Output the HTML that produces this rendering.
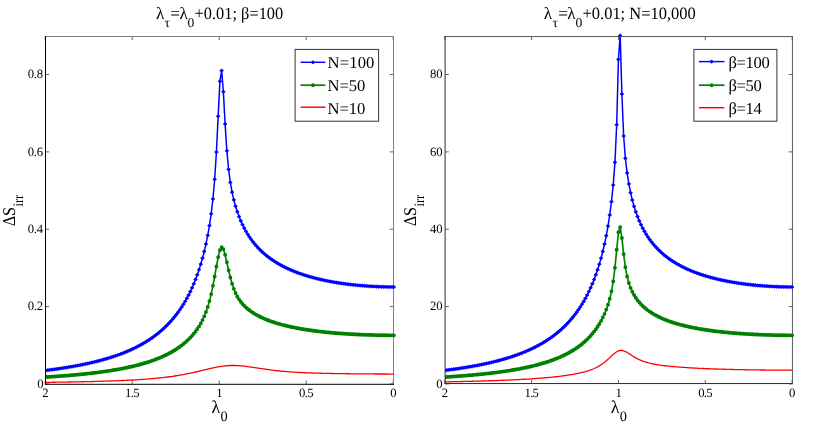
<!DOCTYPE html>
<html><head><meta charset="utf-8"><title>chart</title>
<style>
html,body{margin:0;padding:0;background:#fff;}
svg{display:block;will-change:transform;}
text{font-family:"Liberation Serif",serif;fill:#000;text-rendering:geometricPrecision;}
.t{font-size:12.7px;}
.l{font-size:16.6px;}
.ti{font-size:17.2px;}
.sub{font-size:13.6px;}
.lab{font-size:18px;}
.sub2{font-size:14.4px;}
</style></head><body>
<svg width="830" height="423" viewBox="0 0 830 423">
<rect width="830" height="423" fill="#fff"/>
<path d="M45.20,384.3v-3.6999999999999997M45.20,36.5v3.6999999999999997" stroke="#222" stroke-width="0.7"/>
<path d="M132.20,384.3v-3.6999999999999997M132.20,36.5v3.6999999999999997" stroke="#222" stroke-width="0.7"/>
<path d="M219.20,384.3v-3.6999999999999997M219.20,36.5v3.6999999999999997" stroke="#222" stroke-width="0.7"/>
<path d="M306.20,384.3v-3.6999999999999997M306.20,36.5v3.6999999999999997" stroke="#222" stroke-width="0.7"/>
<path d="M393.20,384.3v-3.6999999999999997M393.20,36.5v3.6999999999999997" stroke="#222" stroke-width="0.7"/>
<path d="M45.5,383.95h3.6999999999999997M393.5,383.95h-3.6999999999999997" stroke="#222" stroke-width="0.7"/>
<path d="M45.5,306.59h3.6999999999999997M393.5,306.59h-3.6999999999999997" stroke="#222" stroke-width="0.7"/>
<path d="M45.5,229.24h3.6999999999999997M393.5,229.24h-3.6999999999999997" stroke="#222" stroke-width="0.7"/>
<path d="M45.5,151.88h3.6999999999999997M393.5,151.88h-3.6999999999999997" stroke="#222" stroke-width="0.7"/>
<path d="M45.5,74.53h3.6999999999999997M393.5,74.53h-3.6999999999999997" stroke="#222" stroke-width="0.7"/>
<path d="M45.0,36.5H394.0M393.5,36.5V384.3" stroke="#808080" stroke-width="1" fill="none"/>
<text x="45.30" y="397.1" text-anchor="middle" class="t">2</text>
<text x="132.30" y="397.1" text-anchor="middle" class="t" textLength="14.4" lengthAdjust="spacing">1.5</text>
<text x="219.30" y="397.1" text-anchor="middle" class="t">1</text>
<text x="306.30" y="397.1" text-anchor="middle" class="t" textLength="14.4" lengthAdjust="spacing">0.5</text>
<text x="393.30" y="397.1" text-anchor="middle" class="t">0</text>
<text x="43.60" y="388.00" text-anchor="end" class="t">0</text>
<text x="43.10" y="310.34" text-anchor="end" class="t" textLength="15.3" lengthAdjust="spacing">0.2</text>
<text x="43.10" y="232.99" text-anchor="end" class="t" textLength="15.3" lengthAdjust="spacing">0.4</text>
<text x="43.10" y="155.63" text-anchor="end" class="t" textLength="15.3" lengthAdjust="spacing">0.6</text>
<text x="43.10" y="78.28" text-anchor="end" class="t" textLength="15.3" lengthAdjust="spacing">0.8</text>
<path d="M444.80,383.55v-3.6999999999999997M444.80,36.55v3.6999999999999997" stroke="#222" stroke-width="0.7"/>
<path d="M531.64,383.55v-3.6999999999999997M531.64,36.55v3.6999999999999997" stroke="#222" stroke-width="0.7"/>
<path d="M618.48,383.55v-3.6999999999999997M618.48,36.55v3.6999999999999997" stroke="#222" stroke-width="0.7"/>
<path d="M705.31,383.55v-3.6999999999999997M705.31,36.55v3.6999999999999997" stroke="#222" stroke-width="0.7"/>
<path d="M792.15,383.55v-3.6999999999999997M792.15,36.55v3.6999999999999997" stroke="#222" stroke-width="0.7"/>
<path d="M445.1,383.95h3.6999999999999997M792.45,383.95h-3.6999999999999997" stroke="#222" stroke-width="0.7"/>
<path d="M445.1,306.59h3.6999999999999997M792.45,306.59h-3.6999999999999997" stroke="#222" stroke-width="0.7"/>
<path d="M445.1,229.24h3.6999999999999997M792.45,229.24h-3.6999999999999997" stroke="#222" stroke-width="0.7"/>
<path d="M445.1,151.88h3.6999999999999997M792.45,151.88h-3.6999999999999997" stroke="#222" stroke-width="0.7"/>
<path d="M445.1,74.53h3.6999999999999997M792.45,74.53h-3.6999999999999997" stroke="#222" stroke-width="0.7"/>
<path d="M444.6,36.55H792.95M792.45,36.55V383.55" stroke="#5a5a5a" stroke-width="1" fill="none"/>
<text x="444.90" y="397.1" text-anchor="middle" class="t">2</text>
<text x="531.74" y="397.1" text-anchor="middle" class="t" textLength="14.4" lengthAdjust="spacing">1.5</text>
<text x="618.58" y="397.1" text-anchor="middle" class="t">1</text>
<text x="705.41" y="397.1" text-anchor="middle" class="t" textLength="14.4" lengthAdjust="spacing">0.5</text>
<text x="792.25" y="397.1" text-anchor="middle" class="t">0</text>
<text x="442.70" y="387.60" text-anchor="end" class="t">0</text>
<text x="442.70" y="310.34" text-anchor="end" class="t">20</text>
<text x="442.70" y="232.99" text-anchor="end" class="t">40</text>
<text x="442.70" y="155.63" text-anchor="end" class="t">60</text>
<text x="442.70" y="78.28" text-anchor="end" class="t">80</text>
<clipPath id="c45"><rect x="45.5" y="32.5" width="352.0" height="351.8"/></clipPath><g clip-path="url(#c45)"><path d="M393.90,374.03 L392.16,374.03 L390.42,374.03 L388.68,374.03 L386.94,374.02 L385.20,374.02 L383.46,374.01 L381.72,374.01 L379.98,374.00 L378.24,374.00 L376.50,373.99 L374.76,373.98 L373.02,373.97 L371.28,373.96 L369.54,373.95 L367.80,373.94 L366.06,373.93 L364.32,373.91 L362.58,373.90 L360.84,373.89 L359.10,373.87 L357.36,373.85 L355.62,373.84 L353.88,373.82 L352.14,373.80 L350.40,373.78 L348.66,373.76 L346.92,373.74 L345.18,373.71 L343.44,373.69 L341.70,373.67 L339.96,373.64 L338.22,373.61 L336.48,373.58 L334.74,373.55 L333.00,373.52 L331.26,373.49 L329.52,373.45 L327.78,373.42 L326.04,373.38 L324.30,373.34 L322.56,373.30 L320.82,373.25 L319.08,373.21 L317.34,373.16 L315.60,373.10 L313.86,373.05 L312.12,372.99 L310.38,372.93 L308.64,372.87 L306.90,372.80 L305.16,372.73 L303.42,372.65 L301.68,372.57 L299.94,372.48 L298.20,372.39 L296.46,372.29 L294.72,372.19 L292.98,372.08 L291.24,371.96 L289.50,371.84 L287.76,371.71 L286.02,371.57 L284.28,371.42 L282.54,371.27 L280.80,371.10 L279.06,370.93 L277.32,370.74 L275.58,370.55 L273.84,370.34 L272.10,370.13 L270.36,369.91 L268.62,369.68 L266.88,369.44 L265.14,369.19 L263.40,368.93 L261.66,368.67 L259.92,368.41 L258.18,368.14 L256.44,367.86 L254.70,367.60 L252.96,367.33 L251.22,367.07 L249.48,366.82 L247.74,366.58 L246.00,366.35 L244.26,366.14 L242.52,365.96 L240.78,365.80 L239.04,365.67 L237.30,365.57 L235.56,365.50 L233.82,365.47 L232.08,365.48 L230.34,365.52 L228.60,365.60 L226.86,365.73 L225.12,365.89 L223.38,366.08 L221.64,366.32 L219.90,366.58 L218.16,366.88 L216.42,367.20 L214.68,367.54 L212.94,367.91 L211.20,368.29 L209.46,368.69 L207.72,369.10 L205.98,369.51 L204.24,369.93 L202.50,370.35 L200.76,370.77 L199.02,371.18 L197.28,371.59 L195.54,372.00 L193.80,372.39 L192.06,372.78 L190.32,373.15 L188.58,373.52 L186.84,373.87 L185.10,374.21 L183.36,374.54 L181.62,374.86 L179.88,375.16 L178.14,375.46 L176.40,375.74 L174.66,376.01 L172.92,376.27 L171.18,376.52 L169.44,376.76 L167.70,376.99 L165.96,377.20 L164.22,377.41 L162.48,377.61 L160.74,377.80 L159.00,377.99 L157.26,378.16 L155.52,378.33 L153.78,378.49 L152.04,378.65 L150.30,378.80 L148.56,378.94 L146.82,379.07 L145.08,379.20 L143.34,379.33 L141.60,379.45 L139.86,379.56 L138.12,379.67 L136.38,379.78 L134.64,379.88 L132.90,379.98 L131.16,380.08 L129.42,380.17 L127.68,380.26 L125.94,380.34 L124.20,380.42 L122.46,380.50 L120.72,380.58 L118.98,380.65 L117.24,380.72 L115.50,380.79 L113.76,380.86 L112.02,380.92 L110.28,380.98 L108.54,381.04 L106.80,381.10 L105.06,381.16 L103.32,381.21 L101.58,381.26 L99.84,381.32 L98.10,381.37 L96.36,381.41 L94.62,381.46 L92.88,381.51 L91.14,381.55 L89.40,381.59 L87.66,381.63 L85.92,381.67 L84.18,381.71 L82.44,381.75 L80.70,381.79 L78.96,381.82 L77.22,381.86 L75.48,381.89 L73.74,381.93 L72.00,381.96 L70.26,381.99 L68.52,382.02 L66.78,382.05 L65.04,382.08 L63.30,382.11 L61.56,382.14 L59.82,382.16 L58.08,382.19 L56.34,382.22 L54.60,382.24 L52.86,382.27 L51.12,382.29 L49.38,382.31 L47.64,382.34 L45.90,382.36" fill="none" stroke="#ff0000" stroke-width="1.3" stroke-linejoin="round"/>
<path d="M393.90,335.35 L392.16,335.35 L390.42,335.34 L388.68,335.33 L386.94,335.31 L385.20,335.29 L383.46,335.27 L381.72,335.25 L379.98,335.22 L378.24,335.18 L376.50,335.14 L374.76,335.10 L373.02,335.06 L371.28,335.01 L369.54,334.96 L367.80,334.90 L366.06,334.84 L364.32,334.77 L362.58,334.71 L360.84,334.63 L359.10,334.56 L357.36,334.47 L355.62,334.39 L353.88,334.30 L352.14,334.20 L350.40,334.10 L348.66,334.00 L346.92,333.89 L345.18,333.78 L343.44,333.66 L341.70,333.54 L339.96,333.41 L338.22,333.28 L336.48,333.14 L334.74,332.99 L333.00,332.84 L331.26,332.69 L329.52,332.52 L327.78,332.35 L326.04,332.18 L324.30,332.00 L322.56,331.81 L320.82,331.61 L319.08,331.41 L317.34,331.20 L315.60,330.99 L313.86,330.76 L312.12,330.53 L310.38,330.28 L308.64,330.03 L306.90,329.77 L305.16,329.50 L303.42,329.22 L301.68,328.93 L299.94,328.63 L298.20,328.31 L296.46,327.99 L294.72,327.65 L292.98,327.30 L291.24,326.93 L289.50,326.55 L287.76,326.16 L286.02,325.75 L284.28,325.32 L282.54,324.87 L280.80,324.40 L279.06,323.92 L277.32,323.41 L275.58,322.88 L273.84,322.32 L272.10,321.74 L270.36,321.12 L268.62,320.48 L266.88,319.80 L265.14,319.09 L263.40,318.34 L261.66,317.54 L259.92,316.70 L258.18,315.81 L256.44,314.86 L254.70,313.84 L252.96,312.75 L251.22,311.59 L249.48,310.32 L247.74,308.95 L246.00,307.44 L244.26,305.78 L242.52,303.91 L240.78,301.79 L239.04,299.34 L237.30,296.46 L235.56,293.01 L233.82,288.83 L232.08,283.72 L230.34,277.53 L228.60,270.26 L226.86,262.32 L225.12,254.71 L223.38,249.10 L221.64,247.27 L219.90,250.15 L218.16,257.13 L216.42,266.50 L214.68,276.48 L212.94,285.85 L211.20,294.09 L209.46,301.11 L207.72,307.04 L205.98,312.06 L204.24,316.37 L202.50,320.12 L200.76,323.41 L199.02,326.35 L197.28,329.01 L195.54,331.42 L193.80,333.63 L192.06,335.68 L190.32,337.58 L188.58,339.34 L186.84,341.00 L185.10,342.55 L183.36,344.01 L181.62,345.38 L179.88,346.68 L178.14,347.91 L176.40,349.08 L174.66,350.19 L172.92,351.24 L171.18,352.25 L169.44,353.20 L167.70,354.12 L165.96,354.99 L164.22,355.82 L162.48,356.62 L160.74,357.38 L159.00,358.11 L157.26,358.82 L155.52,359.49 L153.78,360.14 L152.04,360.76 L150.30,361.36 L148.56,361.93 L146.82,362.49 L145.08,363.02 L143.34,363.54 L141.60,364.04 L139.86,364.51 L138.12,364.98 L136.38,365.42 L134.64,365.86 L132.90,366.27 L131.16,366.68 L129.42,367.07 L127.68,367.44 L125.94,367.81 L124.20,368.16 L122.46,368.51 L120.72,368.84 L118.98,369.16 L117.24,369.47 L115.50,369.78 L113.76,370.07 L112.02,370.36 L110.28,370.63 L108.54,370.90 L106.80,371.16 L105.06,371.42 L103.32,371.66 L101.58,371.90 L99.84,372.14 L98.10,372.36 L96.36,372.59 L94.62,372.80 L92.88,373.01 L91.14,373.21 L89.40,373.41 L87.66,373.60 L85.92,373.79 L84.18,373.98 L82.44,374.15 L80.70,374.33 L78.96,374.50 L77.22,374.66 L75.48,374.83 L73.74,374.98 L72.00,375.14 L70.26,375.29 L68.52,375.43 L66.78,375.58 L65.04,375.72 L63.30,375.85 L61.56,375.99 L59.82,376.12 L58.08,376.24 L56.34,376.37 L54.60,376.49 L52.86,376.61 L51.12,376.72 L49.38,376.84 L47.64,376.95 L45.90,377.06" fill="none" stroke="#008000" stroke-width="1.65" stroke-linejoin="round"/>
<path d="M393.90,335.35h0M392.16,335.35h0M390.42,335.34h0M388.68,335.33h0M386.94,335.31h0M385.20,335.29h0M383.46,335.27h0M381.72,335.25h0M379.98,335.22h0M378.24,335.18h0M376.50,335.14h0M374.76,335.10h0M373.02,335.06h0M371.28,335.01h0M369.54,334.96h0M367.80,334.90h0M366.06,334.84h0M364.32,334.77h0M362.58,334.71h0M360.84,334.63h0M359.10,334.56h0M357.36,334.47h0M355.62,334.39h0M353.88,334.30h0M352.14,334.20h0M350.40,334.10h0M348.66,334.00h0M346.92,333.89h0M345.18,333.78h0M343.44,333.66h0M341.70,333.54h0M339.96,333.41h0M338.22,333.28h0M336.48,333.14h0M334.74,332.99h0M333.00,332.84h0M331.26,332.69h0M329.52,332.52h0M327.78,332.35h0M326.04,332.18h0M324.30,332.00h0M322.56,331.81h0M320.82,331.61h0M319.08,331.41h0M317.34,331.20h0M315.60,330.99h0M313.86,330.76h0M312.12,330.53h0M310.38,330.28h0M308.64,330.03h0M306.90,329.77h0M305.16,329.50h0M303.42,329.22h0M301.68,328.93h0M299.94,328.63h0M298.20,328.31h0M296.46,327.99h0M294.72,327.65h0M292.98,327.30h0M291.24,326.93h0M289.50,326.55h0M287.76,326.16h0M286.02,325.75h0M284.28,325.32h0M282.54,324.87h0M280.80,324.40h0M279.06,323.92h0M277.32,323.41h0M275.58,322.88h0M273.84,322.32h0M272.10,321.74h0M270.36,321.12h0M268.62,320.48h0M266.88,319.80h0M265.14,319.09h0M263.40,318.34h0M261.66,317.54h0M259.92,316.70h0M258.18,315.81h0M256.44,314.86h0M254.70,313.84h0M252.96,312.75h0M251.22,311.59h0M249.48,310.32h0M247.74,308.95h0M246.00,307.44h0M244.26,305.78h0M242.52,303.91h0M240.78,301.79h0M239.04,299.34h0M237.30,296.46h0M235.56,293.01h0M233.82,288.83h0M232.08,283.72h0M230.34,277.53h0M228.60,270.26h0M226.86,262.32h0M225.12,254.71h0M223.38,249.10h0M221.64,247.27h0M219.90,250.15h0M218.16,257.13h0M216.42,266.50h0M214.68,276.48h0M212.94,285.85h0M211.20,294.09h0M209.46,301.11h0M207.72,307.04h0M205.98,312.06h0M204.24,316.37h0M202.50,320.12h0M200.76,323.41h0M199.02,326.35h0M197.28,329.01h0M195.54,331.42h0M193.80,333.63h0M192.06,335.68h0M190.32,337.58h0M188.58,339.34h0M186.84,341.00h0M185.10,342.55h0M183.36,344.01h0M181.62,345.38h0M179.88,346.68h0M178.14,347.91h0M176.40,349.08h0M174.66,350.19h0M172.92,351.24h0M171.18,352.25h0M169.44,353.20h0M167.70,354.12h0M165.96,354.99h0M164.22,355.82h0M162.48,356.62h0M160.74,357.38h0M159.00,358.11h0M157.26,358.82h0M155.52,359.49h0M153.78,360.14h0M152.04,360.76h0M150.30,361.36h0M148.56,361.93h0M146.82,362.49h0M145.08,363.02h0M143.34,363.54h0M141.60,364.04h0M139.86,364.51h0M138.12,364.98h0M136.38,365.42h0M134.64,365.86h0M132.90,366.27h0M131.16,366.68h0M129.42,367.07h0M127.68,367.44h0M125.94,367.81h0M124.20,368.16h0M122.46,368.51h0M120.72,368.84h0M118.98,369.16h0M117.24,369.47h0M115.50,369.78h0M113.76,370.07h0M112.02,370.36h0M110.28,370.63h0M108.54,370.90h0M106.80,371.16h0M105.06,371.42h0M103.32,371.66h0M101.58,371.90h0M99.84,372.14h0M98.10,372.36h0M96.36,372.59h0M94.62,372.80h0M92.88,373.01h0M91.14,373.21h0M89.40,373.41h0M87.66,373.60h0M85.92,373.79h0M84.18,373.98h0M82.44,374.15h0M80.70,374.33h0M78.96,374.50h0M77.22,374.66h0M75.48,374.83h0M73.74,374.98h0M72.00,375.14h0M70.26,375.29h0M68.52,375.43h0M66.78,375.58h0M65.04,375.72h0M63.30,375.85h0M61.56,375.99h0M59.82,376.12h0M58.08,376.24h0M56.34,376.37h0M54.60,376.49h0M52.86,376.61h0M51.12,376.72h0M49.38,376.84h0M47.64,376.95h0M45.90,377.06h0" fill="none" stroke="#008000" stroke-width="3.9" stroke-linecap="round"/>
<path d="M393.90,287.00 L392.16,287.00 L390.42,286.98 L388.68,286.96 L386.94,286.93 L385.20,286.89 L383.46,286.84 L381.72,286.79 L379.98,286.73 L378.24,286.66 L376.50,286.59 L374.76,286.51 L373.02,286.42 L371.28,286.32 L369.54,286.21 L367.80,286.10 L366.06,285.98 L364.32,285.85 L362.58,285.71 L360.84,285.57 L359.10,285.41 L357.36,285.25 L355.62,285.08 L353.88,284.90 L352.14,284.71 L350.40,284.51 L348.66,284.30 L346.92,284.09 L345.18,283.86 L343.44,283.62 L341.70,283.38 L339.96,283.12 L338.22,282.85 L336.48,282.57 L334.74,282.28 L333.00,281.98 L331.26,281.67 L329.52,281.35 L327.78,281.01 L326.04,280.66 L324.30,280.30 L322.56,279.92 L320.82,279.53 L319.08,279.13 L317.34,278.71 L315.60,278.27 L313.86,277.82 L312.12,277.35 L310.38,276.87 L308.64,276.36 L306.90,275.84 L305.16,275.30 L303.42,274.74 L301.68,274.16 L299.94,273.56 L298.20,272.93 L296.46,272.28 L294.72,271.60 L292.98,270.90 L291.24,270.17 L289.50,269.41 L287.76,268.62 L286.02,267.79 L284.28,266.94 L282.54,266.04 L280.80,265.11 L279.06,264.14 L277.32,263.12 L275.58,262.05 L273.84,260.94 L272.10,259.77 L270.36,258.55 L268.62,257.26 L266.88,255.91 L265.14,254.48 L263.40,252.98 L261.66,251.39 L259.92,249.70 L258.18,247.92 L256.44,246.02 L254.70,244.00 L252.96,241.83 L251.22,239.51 L249.48,237.02 L247.74,234.33 L246.00,231.41 L244.26,228.22 L242.52,224.73 L240.78,220.88 L239.04,216.59 L237.30,211.77 L235.56,206.27 L233.82,199.86 L232.08,192.14 L230.34,182.43 L228.60,169.39 L226.86,150.79 L225.12,124.09 L223.38,91.73 L221.64,70.61 L219.90,81.37 L218.16,116.21 L216.42,152.02 L214.68,179.26 L212.94,198.94 L211.20,213.75 L209.46,225.56 L207.72,235.43 L205.98,243.94 L204.24,251.44 L202.50,258.14 L200.76,264.20 L199.02,269.73 L197.28,274.79 L195.54,279.46 L193.80,283.78 L192.06,287.80 L190.32,291.54 L188.58,295.05 L186.84,298.33 L185.10,301.42 L183.36,304.33 L181.62,307.08 L179.88,309.67 L178.14,312.13 L176.40,314.47 L174.66,316.68 L172.92,318.79 L171.18,320.79 L169.44,322.71 L167.70,324.53 L165.96,326.28 L164.22,327.94 L162.48,329.54 L160.74,331.07 L159.00,332.53 L157.26,333.93 L155.52,335.28 L153.78,336.58 L152.04,337.82 L150.30,339.02 L148.56,340.17 L146.82,341.28 L145.08,342.35 L143.34,343.38 L141.60,344.37 L139.86,345.33 L138.12,346.25 L136.38,347.15 L134.64,348.01 L132.90,348.84 L131.16,349.65 L129.42,350.43 L127.68,351.19 L125.94,351.92 L124.20,352.63 L122.46,353.31 L120.72,353.98 L118.98,354.62 L117.24,355.25 L115.50,355.85 L113.76,356.44 L112.02,357.01 L110.28,357.56 L108.54,358.10 L106.80,358.63 L105.06,359.13 L103.32,359.63 L101.58,360.11 L99.84,360.57 L98.10,361.03 L96.36,361.47 L94.62,361.90 L92.88,362.32 L91.14,362.73 L89.40,363.12 L87.66,363.51 L85.92,363.88 L84.18,364.25 L82.44,364.61 L80.70,364.96 L78.96,365.30 L77.22,365.63 L75.48,365.95 L73.74,366.27 L72.00,366.57 L70.26,366.87 L68.52,367.17 L66.78,367.45 L65.04,367.73 L63.30,368.00 L61.56,368.27 L59.82,368.53 L58.08,368.78 L56.34,369.03 L54.60,369.28 L52.86,369.51 L51.12,369.74 L49.38,369.97 L47.64,370.19 L45.90,370.41" fill="none" stroke="#0000ff" stroke-width="1.5" stroke-linejoin="round"/>
<path d="M392.00,287.00l1.9,-1.6l1.9,1.6l-1.9,1.6zM390.26,287.00l1.9,-1.6l1.9,1.6l-1.9,1.6zM388.52,286.98l1.9,-1.6l1.9,1.6l-1.9,1.6zM386.78,286.96l1.9,-1.6l1.9,1.6l-1.9,1.6zM385.04,286.93l1.9,-1.6l1.9,1.6l-1.9,1.6zM383.30,286.89l1.9,-1.6l1.9,1.6l-1.9,1.6zM381.56,286.84l1.9,-1.6l1.9,1.6l-1.9,1.6zM379.82,286.79l1.9,-1.6l1.9,1.6l-1.9,1.6zM378.08,286.73l1.9,-1.6l1.9,1.6l-1.9,1.6zM376.34,286.66l1.9,-1.6l1.9,1.6l-1.9,1.6zM374.60,286.59l1.9,-1.6l1.9,1.6l-1.9,1.6zM372.86,286.51l1.9,-1.6l1.9,1.6l-1.9,1.6zM371.12,286.42l1.9,-1.6l1.9,1.6l-1.9,1.6zM369.38,286.32l1.9,-1.6l1.9,1.6l-1.9,1.6zM367.64,286.21l1.9,-1.6l1.9,1.6l-1.9,1.6zM365.90,286.10l1.9,-1.6l1.9,1.6l-1.9,1.6zM364.16,285.98l1.9,-1.6l1.9,1.6l-1.9,1.6zM362.42,285.85l1.9,-1.6l1.9,1.6l-1.9,1.6zM360.68,285.71l1.9,-1.6l1.9,1.6l-1.9,1.6zM358.94,285.57l1.9,-1.6l1.9,1.6l-1.9,1.6zM357.20,285.41l1.9,-1.6l1.9,1.6l-1.9,1.6zM355.46,285.25l1.9,-1.6l1.9,1.6l-1.9,1.6zM353.72,285.08l1.9,-1.6l1.9,1.6l-1.9,1.6zM351.98,284.90l1.9,-1.6l1.9,1.6l-1.9,1.6zM350.24,284.71l1.9,-1.6l1.9,1.6l-1.9,1.6zM348.50,284.51l1.9,-1.6l1.9,1.6l-1.9,1.6zM346.76,284.30l1.9,-1.6l1.9,1.6l-1.9,1.6zM345.02,284.09l1.9,-1.6l1.9,1.6l-1.9,1.6zM343.28,283.86l1.9,-1.6l1.9,1.6l-1.9,1.6zM341.54,283.62l1.9,-1.6l1.9,1.6l-1.9,1.6zM339.80,283.38l1.9,-1.6l1.9,1.6l-1.9,1.6zM338.06,283.12l1.9,-1.6l1.9,1.6l-1.9,1.6zM336.32,282.85l1.9,-1.6l1.9,1.6l-1.9,1.6zM334.58,282.57l1.9,-1.6l1.9,1.6l-1.9,1.6zM332.84,282.28l1.9,-1.6l1.9,1.6l-1.9,1.6zM331.10,281.98l1.9,-1.6l1.9,1.6l-1.9,1.6zM329.36,281.67l1.9,-1.6l1.9,1.6l-1.9,1.6zM327.62,281.35l1.9,-1.6l1.9,1.6l-1.9,1.6zM325.88,281.01l1.9,-1.6l1.9,1.6l-1.9,1.6zM324.14,280.66l1.9,-1.6l1.9,1.6l-1.9,1.6zM322.40,280.30l1.9,-1.6l1.9,1.6l-1.9,1.6zM320.66,279.92l1.9,-1.6l1.9,1.6l-1.9,1.6zM318.92,279.53l1.9,-1.6l1.9,1.6l-1.9,1.6zM317.18,279.13l1.9,-1.6l1.9,1.6l-1.9,1.6zM315.44,278.71l1.9,-1.6l1.9,1.6l-1.9,1.6zM313.70,278.27l1.9,-1.6l1.9,1.6l-1.9,1.6zM311.96,277.82l1.9,-1.6l1.9,1.6l-1.9,1.6zM310.22,277.35l1.9,-1.6l1.9,1.6l-1.9,1.6zM308.48,276.87l1.9,-1.6l1.9,1.6l-1.9,1.6zM306.74,276.36l1.9,-1.6l1.9,1.6l-1.9,1.6zM305.00,275.84l1.9,-1.6l1.9,1.6l-1.9,1.6zM303.26,275.30l1.9,-1.6l1.9,1.6l-1.9,1.6zM301.52,274.74l1.9,-1.6l1.9,1.6l-1.9,1.6zM299.78,274.16l1.9,-1.6l1.9,1.6l-1.9,1.6zM298.04,273.56l1.9,-1.6l1.9,1.6l-1.9,1.6zM296.30,272.93l1.9,-1.6l1.9,1.6l-1.9,1.6zM294.56,272.28l1.9,-1.6l1.9,1.6l-1.9,1.6zM292.82,271.60l1.9,-1.6l1.9,1.6l-1.9,1.6zM291.08,270.90l1.9,-1.6l1.9,1.6l-1.9,1.6zM289.34,270.17l1.9,-1.6l1.9,1.6l-1.9,1.6zM287.60,269.41l1.9,-1.6l1.9,1.6l-1.9,1.6zM285.86,268.62l1.9,-1.6l1.9,1.6l-1.9,1.6zM284.12,267.79l1.9,-1.6l1.9,1.6l-1.9,1.6zM282.38,266.94l1.9,-1.6l1.9,1.6l-1.9,1.6zM280.64,266.04l1.9,-1.6l1.9,1.6l-1.9,1.6zM278.90,265.11l1.9,-1.6l1.9,1.6l-1.9,1.6zM277.16,264.14l1.9,-1.6l1.9,1.6l-1.9,1.6zM275.42,263.12l1.9,-1.6l1.9,1.6l-1.9,1.6zM273.68,262.05l1.9,-1.6l1.9,1.6l-1.9,1.6zM271.94,260.94l1.9,-1.6l1.9,1.6l-1.9,1.6zM270.20,259.77l1.9,-1.6l1.9,1.6l-1.9,1.6zM268.46,258.55l1.9,-1.6l1.9,1.6l-1.9,1.6zM266.72,257.26l1.9,-1.6l1.9,1.6l-1.9,1.6zM264.98,255.91l1.9,-1.6l1.9,1.6l-1.9,1.6zM263.24,254.48l1.9,-1.6l1.9,1.6l-1.9,1.6zM261.50,252.98l1.9,-1.6l1.9,1.6l-1.9,1.6zM259.76,251.39l1.9,-1.6l1.9,1.6l-1.9,1.6zM258.02,249.70l1.9,-1.6l1.9,1.6l-1.9,1.6zM256.28,247.92l1.9,-1.6l1.9,1.6l-1.9,1.6zM254.54,246.02l1.9,-1.6l1.9,1.6l-1.9,1.6zM252.80,244.00l1.9,-1.6l1.9,1.6l-1.9,1.6zM251.06,241.83l1.9,-1.6l1.9,1.6l-1.9,1.6zM249.32,239.51l1.9,-1.6l1.9,1.6l-1.9,1.6zM247.58,237.02l1.9,-1.6l1.9,1.6l-1.9,1.6zM245.84,234.33l1.9,-1.6l1.9,1.6l-1.9,1.6zM244.10,231.41l1.9,-1.6l1.9,1.6l-1.9,1.6zM242.36,228.22l1.9,-1.6l1.9,1.6l-1.9,1.6zM240.62,224.73l1.9,-1.6l1.9,1.6l-1.9,1.6zM238.88,220.88l1.9,-1.6l1.9,1.6l-1.9,1.6zM237.14,216.59l1.9,-1.6l1.9,1.6l-1.9,1.6zM235.40,211.77l1.9,-1.6l1.9,1.6l-1.9,1.6zM233.66,206.27l1.9,-1.6l1.9,1.6l-1.9,1.6zM231.92,199.86l1.9,-1.6l1.9,1.6l-1.9,1.6zM230.18,192.14l1.9,-1.6l1.9,1.6l-1.9,1.6zM228.44,182.43l1.9,-1.6l1.9,1.6l-1.9,1.6zM226.70,169.39l1.9,-1.6l1.9,1.6l-1.9,1.6zM224.96,150.79l1.9,-1.6l1.9,1.6l-1.9,1.6zM223.22,124.09l1.9,-1.6l1.9,1.6l-1.9,1.6zM221.48,91.73l1.9,-1.6l1.9,1.6l-1.9,1.6zM219.74,70.61l1.9,-1.6l1.9,1.6l-1.9,1.6zM218.00,81.37l1.9,-1.6l1.9,1.6l-1.9,1.6zM216.26,116.21l1.9,-1.6l1.9,1.6l-1.9,1.6zM214.52,152.02l1.9,-1.6l1.9,1.6l-1.9,1.6zM212.78,179.26l1.9,-1.6l1.9,1.6l-1.9,1.6zM211.04,198.94l1.9,-1.6l1.9,1.6l-1.9,1.6zM209.30,213.75l1.9,-1.6l1.9,1.6l-1.9,1.6zM207.56,225.56l1.9,-1.6l1.9,1.6l-1.9,1.6zM205.82,235.43l1.9,-1.6l1.9,1.6l-1.9,1.6zM204.08,243.94l1.9,-1.6l1.9,1.6l-1.9,1.6zM202.34,251.44l1.9,-1.6l1.9,1.6l-1.9,1.6zM200.60,258.14l1.9,-1.6l1.9,1.6l-1.9,1.6zM198.86,264.20l1.9,-1.6l1.9,1.6l-1.9,1.6zM197.12,269.73l1.9,-1.6l1.9,1.6l-1.9,1.6zM195.38,274.79l1.9,-1.6l1.9,1.6l-1.9,1.6zM193.64,279.46l1.9,-1.6l1.9,1.6l-1.9,1.6zM191.90,283.78l1.9,-1.6l1.9,1.6l-1.9,1.6zM190.16,287.80l1.9,-1.6l1.9,1.6l-1.9,1.6zM188.42,291.54l1.9,-1.6l1.9,1.6l-1.9,1.6zM186.68,295.05l1.9,-1.6l1.9,1.6l-1.9,1.6zM184.94,298.33l1.9,-1.6l1.9,1.6l-1.9,1.6zM183.20,301.42l1.9,-1.6l1.9,1.6l-1.9,1.6zM181.46,304.33l1.9,-1.6l1.9,1.6l-1.9,1.6zM179.72,307.08l1.9,-1.6l1.9,1.6l-1.9,1.6zM177.98,309.67l1.9,-1.6l1.9,1.6l-1.9,1.6zM176.24,312.13l1.9,-1.6l1.9,1.6l-1.9,1.6zM174.50,314.47l1.9,-1.6l1.9,1.6l-1.9,1.6zM172.76,316.68l1.9,-1.6l1.9,1.6l-1.9,1.6zM171.02,318.79l1.9,-1.6l1.9,1.6l-1.9,1.6zM169.28,320.79l1.9,-1.6l1.9,1.6l-1.9,1.6zM167.54,322.71l1.9,-1.6l1.9,1.6l-1.9,1.6zM165.80,324.53l1.9,-1.6l1.9,1.6l-1.9,1.6zM164.06,326.28l1.9,-1.6l1.9,1.6l-1.9,1.6zM162.32,327.94l1.9,-1.6l1.9,1.6l-1.9,1.6zM160.58,329.54l1.9,-1.6l1.9,1.6l-1.9,1.6zM158.84,331.07l1.9,-1.6l1.9,1.6l-1.9,1.6zM157.10,332.53l1.9,-1.6l1.9,1.6l-1.9,1.6zM155.36,333.93l1.9,-1.6l1.9,1.6l-1.9,1.6zM153.62,335.28l1.9,-1.6l1.9,1.6l-1.9,1.6zM151.88,336.58l1.9,-1.6l1.9,1.6l-1.9,1.6zM150.14,337.82l1.9,-1.6l1.9,1.6l-1.9,1.6zM148.40,339.02l1.9,-1.6l1.9,1.6l-1.9,1.6zM146.66,340.17l1.9,-1.6l1.9,1.6l-1.9,1.6zM144.92,341.28l1.9,-1.6l1.9,1.6l-1.9,1.6zM143.18,342.35l1.9,-1.6l1.9,1.6l-1.9,1.6zM141.44,343.38l1.9,-1.6l1.9,1.6l-1.9,1.6zM139.70,344.37l1.9,-1.6l1.9,1.6l-1.9,1.6zM137.96,345.33l1.9,-1.6l1.9,1.6l-1.9,1.6zM136.22,346.25l1.9,-1.6l1.9,1.6l-1.9,1.6zM134.48,347.15l1.9,-1.6l1.9,1.6l-1.9,1.6zM132.74,348.01l1.9,-1.6l1.9,1.6l-1.9,1.6zM131.00,348.84l1.9,-1.6l1.9,1.6l-1.9,1.6zM129.26,349.65l1.9,-1.6l1.9,1.6l-1.9,1.6zM127.52,350.43l1.9,-1.6l1.9,1.6l-1.9,1.6zM125.78,351.19l1.9,-1.6l1.9,1.6l-1.9,1.6zM124.04,351.92l1.9,-1.6l1.9,1.6l-1.9,1.6zM122.30,352.63l1.9,-1.6l1.9,1.6l-1.9,1.6zM120.56,353.31l1.9,-1.6l1.9,1.6l-1.9,1.6zM118.82,353.98l1.9,-1.6l1.9,1.6l-1.9,1.6zM117.08,354.62l1.9,-1.6l1.9,1.6l-1.9,1.6zM115.34,355.25l1.9,-1.6l1.9,1.6l-1.9,1.6zM113.60,355.85l1.9,-1.6l1.9,1.6l-1.9,1.6zM111.86,356.44l1.9,-1.6l1.9,1.6l-1.9,1.6zM110.12,357.01l1.9,-1.6l1.9,1.6l-1.9,1.6zM108.38,357.56l1.9,-1.6l1.9,1.6l-1.9,1.6zM106.64,358.10l1.9,-1.6l1.9,1.6l-1.9,1.6zM104.90,358.63l1.9,-1.6l1.9,1.6l-1.9,1.6zM103.16,359.13l1.9,-1.6l1.9,1.6l-1.9,1.6zM101.42,359.63l1.9,-1.6l1.9,1.6l-1.9,1.6zM99.68,360.11l1.9,-1.6l1.9,1.6l-1.9,1.6zM97.94,360.57l1.9,-1.6l1.9,1.6l-1.9,1.6zM96.20,361.03l1.9,-1.6l1.9,1.6l-1.9,1.6zM94.46,361.47l1.9,-1.6l1.9,1.6l-1.9,1.6zM92.72,361.90l1.9,-1.6l1.9,1.6l-1.9,1.6zM90.98,362.32l1.9,-1.6l1.9,1.6l-1.9,1.6zM89.24,362.73l1.9,-1.6l1.9,1.6l-1.9,1.6zM87.50,363.12l1.9,-1.6l1.9,1.6l-1.9,1.6zM85.76,363.51l1.9,-1.6l1.9,1.6l-1.9,1.6zM84.02,363.88l1.9,-1.6l1.9,1.6l-1.9,1.6zM82.28,364.25l1.9,-1.6l1.9,1.6l-1.9,1.6zM80.54,364.61l1.9,-1.6l1.9,1.6l-1.9,1.6zM78.80,364.96l1.9,-1.6l1.9,1.6l-1.9,1.6zM77.06,365.30l1.9,-1.6l1.9,1.6l-1.9,1.6zM75.32,365.63l1.9,-1.6l1.9,1.6l-1.9,1.6zM73.58,365.95l1.9,-1.6l1.9,1.6l-1.9,1.6zM71.84,366.27l1.9,-1.6l1.9,1.6l-1.9,1.6zM70.10,366.57l1.9,-1.6l1.9,1.6l-1.9,1.6zM68.36,366.87l1.9,-1.6l1.9,1.6l-1.9,1.6zM66.62,367.17l1.9,-1.6l1.9,1.6l-1.9,1.6zM64.88,367.45l1.9,-1.6l1.9,1.6l-1.9,1.6zM63.14,367.73l1.9,-1.6l1.9,1.6l-1.9,1.6zM61.40,368.00l1.9,-1.6l1.9,1.6l-1.9,1.6zM59.66,368.27l1.9,-1.6l1.9,1.6l-1.9,1.6zM57.92,368.53l1.9,-1.6l1.9,1.6l-1.9,1.6zM56.18,368.78l1.9,-1.6l1.9,1.6l-1.9,1.6zM54.44,369.03l1.9,-1.6l1.9,1.6l-1.9,1.6zM52.70,369.28l1.9,-1.6l1.9,1.6l-1.9,1.6zM50.96,369.51l1.9,-1.6l1.9,1.6l-1.9,1.6zM49.22,369.74l1.9,-1.6l1.9,1.6l-1.9,1.6zM47.48,369.97l1.9,-1.6l1.9,1.6l-1.9,1.6zM45.74,370.19l1.9,-1.6l1.9,1.6l-1.9,1.6zM44.00,370.41l1.9,-1.6l1.9,1.6l-1.9,1.6z" fill="#0000ff" stroke="#0000ff" stroke-width="0.75" stroke-linejoin="round"/></g>
<clipPath id="c445"><rect x="445.1" y="32.55" width="351.35" height="351.0"/></clipPath><g clip-path="url(#c445)"><path d="M792.10,370.16 L790.36,370.16 L788.63,370.16 L786.89,370.16 L785.15,370.15 L783.42,370.15 L781.68,370.14 L779.94,370.13 L778.21,370.12 L776.47,370.11 L774.73,370.10 L773.00,370.09 L771.26,370.08 L769.52,370.07 L767.79,370.05 L766.05,370.04 L764.31,370.02 L762.58,370.00 L760.84,369.98 L759.10,369.96 L757.37,369.94 L755.63,369.92 L753.89,369.89 L752.15,369.87 L750.42,369.84 L748.68,369.81 L746.94,369.78 L745.21,369.75 L743.47,369.72 L741.73,369.69 L740.00,369.65 L738.26,369.62 L736.52,369.58 L734.79,369.54 L733.05,369.50 L731.31,369.46 L729.58,369.42 L727.84,369.37 L726.10,369.32 L724.37,369.27 L722.63,369.22 L720.89,369.17 L719.16,369.12 L717.42,369.06 L715.68,369.00 L713.95,368.94 L712.21,368.88 L710.47,368.81 L708.74,368.74 L707.00,368.67 L705.26,368.60 L703.53,368.52 L701.79,368.45 L700.05,368.36 L698.32,368.28 L696.58,368.19 L694.84,368.10 L693.11,368.01 L691.37,367.91 L689.63,367.80 L687.89,367.70 L686.16,367.59 L684.42,367.47 L682.68,367.35 L680.95,367.22 L679.21,367.09 L677.47,366.95 L675.74,366.81 L674.00,366.66 L672.26,366.50 L670.53,366.33 L668.79,366.16 L667.05,365.97 L665.32,365.77 L663.58,365.56 L661.84,365.34 L660.11,365.10 L658.37,364.84 L656.63,364.56 L654.90,364.26 L653.16,363.93 L651.42,363.57 L649.69,363.18 L647.95,362.74 L646.21,362.25 L644.48,361.71 L642.74,361.11 L641.00,360.43 L639.27,359.67 L637.53,358.83 L635.79,357.90 L634.06,356.88 L632.32,355.78 L630.58,354.65 L628.85,353.51 L627.11,352.44 L625.37,351.51 L623.64,350.82 L621.90,350.45 L620.16,350.48 L618.42,350.92 L616.69,351.76 L614.95,352.95 L613.21,354.38 L611.48,355.96 L609.74,357.60 L608.00,359.22 L606.27,360.77 L604.53,362.22 L602.79,363.55 L601.06,364.76 L599.32,365.85 L597.58,366.84 L595.85,367.73 L594.11,368.53 L592.37,369.26 L590.64,369.91 L588.90,370.52 L587.16,371.07 L585.43,371.58 L583.69,372.05 L581.95,372.49 L580.22,372.89 L578.48,373.27 L576.74,373.63 L575.01,373.97 L573.27,374.29 L571.53,374.59 L569.80,374.88 L568.06,375.15 L566.32,375.41 L564.59,375.65 L562.85,375.89 L561.11,376.11 L559.38,376.33 L557.64,376.53 L555.90,376.73 L554.17,376.92 L552.43,377.10 L550.69,377.28 L548.96,377.44 L547.22,377.61 L545.48,377.76 L543.74,377.91 L542.01,378.05 L540.27,378.19 L538.53,378.33 L536.80,378.46 L535.06,378.58 L533.32,378.70 L531.59,378.82 L529.85,378.93 L528.11,379.04 L526.38,379.15 L524.64,379.25 L522.90,379.35 L521.17,379.45 L519.43,379.54 L517.69,379.63 L515.96,379.72 L514.22,379.80 L512.48,379.88 L510.75,379.96 L509.01,380.04 L507.27,380.12 L505.54,380.19 L503.80,380.26 L502.06,380.33 L500.33,380.40 L498.59,380.46 L496.85,380.53 L495.12,380.59 L493.38,380.65 L491.64,380.71 L489.91,380.76 L488.17,380.82 L486.43,380.87 L484.70,380.93 L482.96,380.98 L481.22,381.03 L479.49,381.08 L477.75,381.12 L476.01,381.17 L474.27,381.22 L472.54,381.26 L470.80,381.30 L469.06,381.34 L467.33,381.39 L465.59,381.43 L463.85,381.46 L462.12,381.50 L460.38,381.54 L458.64,381.58 L456.91,381.61 L455.17,381.65 L453.43,381.68 L451.70,381.71 L449.96,381.75 L448.22,381.78 L446.49,381.81 L444.75,381.84" fill="none" stroke="#ff0000" stroke-width="1.3" stroke-linejoin="round"/>
<path d="M792.10,335.35 L790.36,335.35 L788.63,335.34 L786.89,335.33 L785.15,335.31 L783.42,335.29 L781.68,335.27 L779.94,335.25 L778.21,335.22 L776.47,335.18 L774.73,335.14 L773.00,335.10 L771.26,335.06 L769.52,335.01 L767.79,334.96 L766.05,334.90 L764.31,334.84 L762.58,334.77 L760.84,334.71 L759.10,334.63 L757.37,334.56 L755.63,334.47 L753.89,334.39 L752.15,334.30 L750.42,334.20 L748.68,334.10 L746.94,334.00 L745.21,333.89 L743.47,333.78 L741.73,333.66 L740.00,333.54 L738.26,333.41 L736.52,333.28 L734.79,333.14 L733.05,332.99 L731.31,332.84 L729.58,332.69 L727.84,332.52 L726.10,332.35 L724.37,332.18 L722.63,332.00 L720.89,331.81 L719.16,331.61 L717.42,331.41 L715.68,331.20 L713.95,330.99 L712.21,330.76 L710.47,330.53 L708.74,330.28 L707.00,330.03 L705.26,329.77 L703.53,329.50 L701.79,329.22 L700.05,328.93 L698.32,328.63 L696.58,328.31 L694.84,327.99 L693.11,327.65 L691.37,327.30 L689.63,326.93 L687.89,326.55 L686.16,326.16 L684.42,325.75 L682.68,325.32 L680.95,324.87 L679.21,324.40 L677.47,323.92 L675.74,323.41 L674.00,322.88 L672.26,322.32 L670.53,321.74 L668.79,321.12 L667.05,320.48 L665.32,319.80 L663.58,319.09 L661.84,318.34 L660.11,317.54 L658.37,316.70 L656.63,315.81 L654.90,314.86 L653.16,313.85 L651.42,312.77 L649.69,311.61 L647.95,310.36 L646.21,309.01 L644.48,307.55 L642.74,305.96 L641.00,304.22 L639.27,302.29 L637.53,300.14 L635.79,297.73 L634.06,294.97 L632.32,291.76 L630.58,287.89 L628.85,283.02 L627.11,276.52 L625.37,267.31 L623.64,254.16 L621.90,238.05 L620.16,227.08 L618.42,232.16 L616.69,249.74 L614.95,267.81 L613.21,281.51 L611.48,291.37 L609.74,298.77 L608.00,304.66 L606.27,309.58 L604.53,313.83 L602.79,317.57 L601.06,320.92 L599.32,323.95 L597.58,326.71 L595.85,329.25 L594.11,331.58 L592.37,333.74 L590.64,335.75 L588.90,337.62 L587.16,339.37 L585.43,341.02 L583.69,342.56 L581.95,344.02 L580.22,345.39 L578.48,346.69 L576.74,347.92 L575.01,349.08 L573.27,350.19 L571.53,351.24 L569.80,352.25 L568.06,353.20 L566.32,354.12 L564.59,354.99 L562.85,355.82 L561.11,356.62 L559.38,357.38 L557.64,358.11 L555.90,358.82 L554.17,359.49 L552.43,360.14 L550.69,360.76 L548.96,361.36 L547.22,361.93 L545.48,362.49 L543.74,363.02 L542.01,363.54 L540.27,364.04 L538.53,364.51 L536.80,364.98 L535.06,365.42 L533.32,365.86 L531.59,366.27 L529.85,366.68 L528.11,367.07 L526.38,367.44 L524.64,367.81 L522.90,368.16 L521.17,368.51 L519.43,368.84 L517.69,369.16 L515.96,369.47 L514.22,369.78 L512.48,370.07 L510.75,370.36 L509.01,370.63 L507.27,370.90 L505.54,371.16 L503.80,371.42 L502.06,371.66 L500.33,371.90 L498.59,372.14 L496.85,372.36 L495.12,372.59 L493.38,372.80 L491.64,373.01 L489.91,373.21 L488.17,373.41 L486.43,373.60 L484.70,373.79 L482.96,373.98 L481.22,374.15 L479.49,374.33 L477.75,374.50 L476.01,374.66 L474.27,374.83 L472.54,374.98 L470.80,375.14 L469.06,375.29 L467.33,375.43 L465.59,375.58 L463.85,375.72 L462.12,375.85 L460.38,375.99 L458.64,376.12 L456.91,376.24 L455.17,376.37 L453.43,376.49 L451.70,376.61 L449.96,376.72 L448.22,376.84 L446.49,376.95 L444.75,377.06" fill="none" stroke="#008000" stroke-width="1.65" stroke-linejoin="round"/>
<path d="M792.10,335.35h0M790.36,335.35h0M788.63,335.34h0M786.89,335.33h0M785.15,335.31h0M783.42,335.29h0M781.68,335.27h0M779.94,335.25h0M778.21,335.22h0M776.47,335.18h0M774.73,335.14h0M773.00,335.10h0M771.26,335.06h0M769.52,335.01h0M767.79,334.96h0M766.05,334.90h0M764.31,334.84h0M762.58,334.77h0M760.84,334.71h0M759.10,334.63h0M757.37,334.56h0M755.63,334.47h0M753.89,334.39h0M752.15,334.30h0M750.42,334.20h0M748.68,334.10h0M746.94,334.00h0M745.21,333.89h0M743.47,333.78h0M741.73,333.66h0M740.00,333.54h0M738.26,333.41h0M736.52,333.28h0M734.79,333.14h0M733.05,332.99h0M731.31,332.84h0M729.58,332.69h0M727.84,332.52h0M726.10,332.35h0M724.37,332.18h0M722.63,332.00h0M720.89,331.81h0M719.16,331.61h0M717.42,331.41h0M715.68,331.20h0M713.95,330.99h0M712.21,330.76h0M710.47,330.53h0M708.74,330.28h0M707.00,330.03h0M705.26,329.77h0M703.53,329.50h0M701.79,329.22h0M700.05,328.93h0M698.32,328.63h0M696.58,328.31h0M694.84,327.99h0M693.11,327.65h0M691.37,327.30h0M689.63,326.93h0M687.89,326.55h0M686.16,326.16h0M684.42,325.75h0M682.68,325.32h0M680.95,324.87h0M679.21,324.40h0M677.47,323.92h0M675.74,323.41h0M674.00,322.88h0M672.26,322.32h0M670.53,321.74h0M668.79,321.12h0M667.05,320.48h0M665.32,319.80h0M663.58,319.09h0M661.84,318.34h0M660.11,317.54h0M658.37,316.70h0M656.63,315.81h0M654.90,314.86h0M653.16,313.85h0M651.42,312.77h0M649.69,311.61h0M647.95,310.36h0M646.21,309.01h0M644.48,307.55h0M642.74,305.96h0M641.00,304.22h0M639.27,302.29h0M637.53,300.14h0M635.79,297.73h0M634.06,294.97h0M632.32,291.76h0M630.58,287.89h0M628.85,283.02h0M627.11,276.52h0M625.37,267.31h0M623.64,254.16h0M621.90,238.05h0M620.16,227.08h0M618.42,232.16h0M616.69,249.74h0M614.95,267.81h0M613.21,281.51h0M611.48,291.37h0M609.74,298.77h0M608.00,304.66h0M606.27,309.58h0M604.53,313.83h0M602.79,317.57h0M601.06,320.92h0M599.32,323.95h0M597.58,326.71h0M595.85,329.25h0M594.11,331.58h0M592.37,333.74h0M590.64,335.75h0M588.90,337.62h0M587.16,339.37h0M585.43,341.02h0M583.69,342.56h0M581.95,344.02h0M580.22,345.39h0M578.48,346.69h0M576.74,347.92h0M575.01,349.08h0M573.27,350.19h0M571.53,351.24h0M569.80,352.25h0M568.06,353.20h0M566.32,354.12h0M564.59,354.99h0M562.85,355.82h0M561.11,356.62h0M559.38,357.38h0M557.64,358.11h0M555.90,358.82h0M554.17,359.49h0M552.43,360.14h0M550.69,360.76h0M548.96,361.36h0M547.22,361.93h0M545.48,362.49h0M543.74,363.02h0M542.01,363.54h0M540.27,364.04h0M538.53,364.51h0M536.80,364.98h0M535.06,365.42h0M533.32,365.86h0M531.59,366.27h0M529.85,366.68h0M528.11,367.07h0M526.38,367.44h0M524.64,367.81h0M522.90,368.16h0M521.17,368.51h0M519.43,368.84h0M517.69,369.16h0M515.96,369.47h0M514.22,369.78h0M512.48,370.07h0M510.75,370.36h0M509.01,370.63h0M507.27,370.90h0M505.54,371.16h0M503.80,371.42h0M502.06,371.66h0M500.33,371.90h0M498.59,372.14h0M496.85,372.36h0M495.12,372.59h0M493.38,372.80h0M491.64,373.01h0M489.91,373.21h0M488.17,373.41h0M486.43,373.60h0M484.70,373.79h0M482.96,373.98h0M481.22,374.15h0M479.49,374.33h0M477.75,374.50h0M476.01,374.66h0M474.27,374.83h0M472.54,374.98h0M470.80,375.14h0M469.06,375.29h0M467.33,375.43h0M465.59,375.58h0M463.85,375.72h0M462.12,375.85h0M460.38,375.99h0M458.64,376.12h0M456.91,376.24h0M455.17,376.37h0M453.43,376.49h0M451.70,376.61h0M449.96,376.72h0M448.22,376.84h0M446.49,376.95h0M444.75,377.06h0" fill="none" stroke="#008000" stroke-width="3.9" stroke-linecap="round"/>
<path d="M792.10,287.00 L790.36,287.00 L788.63,286.98 L786.89,286.96 L785.15,286.93 L783.42,286.89 L781.68,286.84 L779.94,286.79 L778.21,286.73 L776.47,286.66 L774.73,286.59 L773.00,286.51 L771.26,286.42 L769.52,286.32 L767.79,286.21 L766.05,286.10 L764.31,285.98 L762.58,285.85 L760.84,285.71 L759.10,285.57 L757.37,285.41 L755.63,285.25 L753.89,285.08 L752.15,284.90 L750.42,284.71 L748.68,284.51 L746.94,284.30 L745.21,284.09 L743.47,283.86 L741.73,283.62 L740.00,283.38 L738.26,283.12 L736.52,282.85 L734.79,282.57 L733.05,282.28 L731.31,281.98 L729.58,281.67 L727.84,281.35 L726.10,281.01 L724.37,280.66 L722.63,280.30 L720.89,279.92 L719.16,279.53 L717.42,279.13 L715.68,278.71 L713.95,278.27 L712.21,277.82 L710.47,277.35 L708.74,276.87 L707.00,276.36 L705.26,275.84 L703.53,275.30 L701.79,274.74 L700.05,274.16 L698.32,273.56 L696.58,272.93 L694.84,272.28 L693.11,271.60 L691.37,270.90 L689.63,270.17 L687.89,269.41 L686.16,268.62 L684.42,267.79 L682.68,266.94 L680.95,266.04 L679.21,265.11 L677.47,264.14 L675.74,263.12 L674.00,262.05 L672.26,260.94 L670.53,259.77 L668.79,258.55 L667.05,257.26 L665.32,255.91 L663.58,254.48 L661.84,252.98 L660.11,251.39 L658.37,249.70 L656.63,247.92 L654.90,246.02 L653.16,244.00 L651.42,241.83 L649.69,239.51 L647.95,237.02 L646.21,234.33 L644.48,231.41 L642.74,228.22 L641.00,224.73 L639.27,220.88 L637.53,216.60 L635.79,211.80 L634.06,206.35 L632.32,200.08 L630.58,192.73 L628.85,183.92 L627.11,172.94 L625.37,158.34 L623.64,135.98 L621.90,94.00 L620.16,35.55 L618.42,59.37 L616.69,124.75 L614.95,162.32 L613.21,185.06 L611.48,201.65 L609.74,214.94 L608.00,226.07 L606.27,235.64 L604.53,244.03 L602.79,251.47 L601.06,258.16 L599.32,264.21 L597.58,269.73 L595.85,274.79 L594.11,279.46 L592.37,283.78 L590.64,287.80 L588.90,291.54 L587.16,295.05 L585.43,298.33 L583.69,301.42 L581.95,304.33 L580.22,307.08 L578.48,309.67 L576.74,312.13 L575.01,314.47 L573.27,316.68 L571.53,318.79 L569.80,320.79 L568.06,322.71 L566.32,324.53 L564.59,326.28 L562.85,327.94 L561.11,329.54 L559.38,331.07 L557.64,332.53 L555.90,333.93 L554.17,335.28 L552.43,336.58 L550.69,337.82 L548.96,339.02 L547.22,340.17 L545.48,341.28 L543.74,342.35 L542.01,343.38 L540.27,344.37 L538.53,345.33 L536.80,346.25 L535.06,347.15 L533.32,348.01 L531.59,348.84 L529.85,349.65 L528.11,350.43 L526.38,351.19 L524.64,351.92 L522.90,352.63 L521.17,353.31 L519.43,353.98 L517.69,354.62 L515.96,355.25 L514.22,355.85 L512.48,356.44 L510.75,357.01 L509.01,357.56 L507.27,358.10 L505.54,358.63 L503.80,359.13 L502.06,359.63 L500.33,360.11 L498.59,360.57 L496.85,361.03 L495.12,361.47 L493.38,361.90 L491.64,362.32 L489.91,362.73 L488.17,363.12 L486.43,363.51 L484.70,363.88 L482.96,364.25 L481.22,364.61 L479.49,364.96 L477.75,365.30 L476.01,365.63 L474.27,365.95 L472.54,366.27 L470.80,366.57 L469.06,366.87 L467.33,367.17 L465.59,367.45 L463.85,367.73 L462.12,368.00 L460.38,368.27 L458.64,368.53 L456.91,368.78 L455.17,369.03 L453.43,369.28 L451.70,369.51 L449.96,369.74 L448.22,369.97 L446.49,370.19 L444.75,370.41" fill="none" stroke="#0000ff" stroke-width="1.5" stroke-linejoin="round"/>
<path d="M790.20,287.00l1.9,-1.6l1.9,1.6l-1.9,1.6zM788.46,287.00l1.9,-1.6l1.9,1.6l-1.9,1.6zM786.73,286.98l1.9,-1.6l1.9,1.6l-1.9,1.6zM784.99,286.96l1.9,-1.6l1.9,1.6l-1.9,1.6zM783.25,286.93l1.9,-1.6l1.9,1.6l-1.9,1.6zM781.52,286.89l1.9,-1.6l1.9,1.6l-1.9,1.6zM779.78,286.84l1.9,-1.6l1.9,1.6l-1.9,1.6zM778.04,286.79l1.9,-1.6l1.9,1.6l-1.9,1.6zM776.31,286.73l1.9,-1.6l1.9,1.6l-1.9,1.6zM774.57,286.66l1.9,-1.6l1.9,1.6l-1.9,1.6zM772.83,286.59l1.9,-1.6l1.9,1.6l-1.9,1.6zM771.10,286.51l1.9,-1.6l1.9,1.6l-1.9,1.6zM769.36,286.42l1.9,-1.6l1.9,1.6l-1.9,1.6zM767.62,286.32l1.9,-1.6l1.9,1.6l-1.9,1.6zM765.89,286.21l1.9,-1.6l1.9,1.6l-1.9,1.6zM764.15,286.10l1.9,-1.6l1.9,1.6l-1.9,1.6zM762.41,285.98l1.9,-1.6l1.9,1.6l-1.9,1.6zM760.68,285.85l1.9,-1.6l1.9,1.6l-1.9,1.6zM758.94,285.71l1.9,-1.6l1.9,1.6l-1.9,1.6zM757.20,285.57l1.9,-1.6l1.9,1.6l-1.9,1.6zM755.47,285.41l1.9,-1.6l1.9,1.6l-1.9,1.6zM753.73,285.25l1.9,-1.6l1.9,1.6l-1.9,1.6zM751.99,285.08l1.9,-1.6l1.9,1.6l-1.9,1.6zM750.25,284.90l1.9,-1.6l1.9,1.6l-1.9,1.6zM748.52,284.71l1.9,-1.6l1.9,1.6l-1.9,1.6zM746.78,284.51l1.9,-1.6l1.9,1.6l-1.9,1.6zM745.04,284.30l1.9,-1.6l1.9,1.6l-1.9,1.6zM743.31,284.09l1.9,-1.6l1.9,1.6l-1.9,1.6zM741.57,283.86l1.9,-1.6l1.9,1.6l-1.9,1.6zM739.83,283.62l1.9,-1.6l1.9,1.6l-1.9,1.6zM738.10,283.38l1.9,-1.6l1.9,1.6l-1.9,1.6zM736.36,283.12l1.9,-1.6l1.9,1.6l-1.9,1.6zM734.62,282.85l1.9,-1.6l1.9,1.6l-1.9,1.6zM732.89,282.57l1.9,-1.6l1.9,1.6l-1.9,1.6zM731.15,282.28l1.9,-1.6l1.9,1.6l-1.9,1.6zM729.41,281.98l1.9,-1.6l1.9,1.6l-1.9,1.6zM727.68,281.67l1.9,-1.6l1.9,1.6l-1.9,1.6zM725.94,281.35l1.9,-1.6l1.9,1.6l-1.9,1.6zM724.20,281.01l1.9,-1.6l1.9,1.6l-1.9,1.6zM722.47,280.66l1.9,-1.6l1.9,1.6l-1.9,1.6zM720.73,280.30l1.9,-1.6l1.9,1.6l-1.9,1.6zM718.99,279.92l1.9,-1.6l1.9,1.6l-1.9,1.6zM717.26,279.53l1.9,-1.6l1.9,1.6l-1.9,1.6zM715.52,279.13l1.9,-1.6l1.9,1.6l-1.9,1.6zM713.78,278.71l1.9,-1.6l1.9,1.6l-1.9,1.6zM712.05,278.27l1.9,-1.6l1.9,1.6l-1.9,1.6zM710.31,277.82l1.9,-1.6l1.9,1.6l-1.9,1.6zM708.57,277.35l1.9,-1.6l1.9,1.6l-1.9,1.6zM706.84,276.87l1.9,-1.6l1.9,1.6l-1.9,1.6zM705.10,276.36l1.9,-1.6l1.9,1.6l-1.9,1.6zM703.36,275.84l1.9,-1.6l1.9,1.6l-1.9,1.6zM701.63,275.30l1.9,-1.6l1.9,1.6l-1.9,1.6zM699.89,274.74l1.9,-1.6l1.9,1.6l-1.9,1.6zM698.15,274.16l1.9,-1.6l1.9,1.6l-1.9,1.6zM696.42,273.56l1.9,-1.6l1.9,1.6l-1.9,1.6zM694.68,272.93l1.9,-1.6l1.9,1.6l-1.9,1.6zM692.94,272.28l1.9,-1.6l1.9,1.6l-1.9,1.6zM691.21,271.60l1.9,-1.6l1.9,1.6l-1.9,1.6zM689.47,270.90l1.9,-1.6l1.9,1.6l-1.9,1.6zM687.73,270.17l1.9,-1.6l1.9,1.6l-1.9,1.6zM686.00,269.41l1.9,-1.6l1.9,1.6l-1.9,1.6zM684.26,268.62l1.9,-1.6l1.9,1.6l-1.9,1.6zM682.52,267.79l1.9,-1.6l1.9,1.6l-1.9,1.6zM680.78,266.94l1.9,-1.6l1.9,1.6l-1.9,1.6zM679.05,266.04l1.9,-1.6l1.9,1.6l-1.9,1.6zM677.31,265.11l1.9,-1.6l1.9,1.6l-1.9,1.6zM675.57,264.14l1.9,-1.6l1.9,1.6l-1.9,1.6zM673.84,263.12l1.9,-1.6l1.9,1.6l-1.9,1.6zM672.10,262.05l1.9,-1.6l1.9,1.6l-1.9,1.6zM670.36,260.94l1.9,-1.6l1.9,1.6l-1.9,1.6zM668.63,259.77l1.9,-1.6l1.9,1.6l-1.9,1.6zM666.89,258.55l1.9,-1.6l1.9,1.6l-1.9,1.6zM665.15,257.26l1.9,-1.6l1.9,1.6l-1.9,1.6zM663.42,255.91l1.9,-1.6l1.9,1.6l-1.9,1.6zM661.68,254.48l1.9,-1.6l1.9,1.6l-1.9,1.6zM659.94,252.98l1.9,-1.6l1.9,1.6l-1.9,1.6zM658.21,251.39l1.9,-1.6l1.9,1.6l-1.9,1.6zM656.47,249.70l1.9,-1.6l1.9,1.6l-1.9,1.6zM654.73,247.92l1.9,-1.6l1.9,1.6l-1.9,1.6zM653.00,246.02l1.9,-1.6l1.9,1.6l-1.9,1.6zM651.26,244.00l1.9,-1.6l1.9,1.6l-1.9,1.6zM649.52,241.83l1.9,-1.6l1.9,1.6l-1.9,1.6zM647.79,239.51l1.9,-1.6l1.9,1.6l-1.9,1.6zM646.05,237.02l1.9,-1.6l1.9,1.6l-1.9,1.6zM644.31,234.33l1.9,-1.6l1.9,1.6l-1.9,1.6zM642.58,231.41l1.9,-1.6l1.9,1.6l-1.9,1.6zM640.84,228.22l1.9,-1.6l1.9,1.6l-1.9,1.6zM639.10,224.73l1.9,-1.6l1.9,1.6l-1.9,1.6zM637.37,220.88l1.9,-1.6l1.9,1.6l-1.9,1.6zM635.63,216.60l1.9,-1.6l1.9,1.6l-1.9,1.6zM633.89,211.80l1.9,-1.6l1.9,1.6l-1.9,1.6zM632.16,206.35l1.9,-1.6l1.9,1.6l-1.9,1.6zM630.42,200.08l1.9,-1.6l1.9,1.6l-1.9,1.6zM628.68,192.73l1.9,-1.6l1.9,1.6l-1.9,1.6zM626.95,183.92l1.9,-1.6l1.9,1.6l-1.9,1.6zM625.21,172.94l1.9,-1.6l1.9,1.6l-1.9,1.6zM623.47,158.34l1.9,-1.6l1.9,1.6l-1.9,1.6zM621.74,135.98l1.9,-1.6l1.9,1.6l-1.9,1.6zM620.00,94.00l1.9,-1.6l1.9,1.6l-1.9,1.6zM618.26,35.55l1.9,-1.6l1.9,1.6l-1.9,1.6zM616.52,59.37l1.9,-1.6l1.9,1.6l-1.9,1.6zM614.79,124.75l1.9,-1.6l1.9,1.6l-1.9,1.6zM613.05,162.32l1.9,-1.6l1.9,1.6l-1.9,1.6zM611.31,185.06l1.9,-1.6l1.9,1.6l-1.9,1.6zM609.58,201.65l1.9,-1.6l1.9,1.6l-1.9,1.6zM607.84,214.94l1.9,-1.6l1.9,1.6l-1.9,1.6zM606.10,226.07l1.9,-1.6l1.9,1.6l-1.9,1.6zM604.37,235.64l1.9,-1.6l1.9,1.6l-1.9,1.6zM602.63,244.03l1.9,-1.6l1.9,1.6l-1.9,1.6zM600.89,251.47l1.9,-1.6l1.9,1.6l-1.9,1.6zM599.16,258.16l1.9,-1.6l1.9,1.6l-1.9,1.6zM597.42,264.21l1.9,-1.6l1.9,1.6l-1.9,1.6zM595.68,269.73l1.9,-1.6l1.9,1.6l-1.9,1.6zM593.95,274.79l1.9,-1.6l1.9,1.6l-1.9,1.6zM592.21,279.46l1.9,-1.6l1.9,1.6l-1.9,1.6zM590.47,283.78l1.9,-1.6l1.9,1.6l-1.9,1.6zM588.74,287.80l1.9,-1.6l1.9,1.6l-1.9,1.6zM587.00,291.54l1.9,-1.6l1.9,1.6l-1.9,1.6zM585.26,295.05l1.9,-1.6l1.9,1.6l-1.9,1.6zM583.53,298.33l1.9,-1.6l1.9,1.6l-1.9,1.6zM581.79,301.42l1.9,-1.6l1.9,1.6l-1.9,1.6zM580.05,304.33l1.9,-1.6l1.9,1.6l-1.9,1.6zM578.32,307.08l1.9,-1.6l1.9,1.6l-1.9,1.6zM576.58,309.67l1.9,-1.6l1.9,1.6l-1.9,1.6zM574.84,312.13l1.9,-1.6l1.9,1.6l-1.9,1.6zM573.11,314.47l1.9,-1.6l1.9,1.6l-1.9,1.6zM571.37,316.68l1.9,-1.6l1.9,1.6l-1.9,1.6zM569.63,318.79l1.9,-1.6l1.9,1.6l-1.9,1.6zM567.90,320.79l1.9,-1.6l1.9,1.6l-1.9,1.6zM566.16,322.71l1.9,-1.6l1.9,1.6l-1.9,1.6zM564.42,324.53l1.9,-1.6l1.9,1.6l-1.9,1.6zM562.69,326.28l1.9,-1.6l1.9,1.6l-1.9,1.6zM560.95,327.94l1.9,-1.6l1.9,1.6l-1.9,1.6zM559.21,329.54l1.9,-1.6l1.9,1.6l-1.9,1.6zM557.48,331.07l1.9,-1.6l1.9,1.6l-1.9,1.6zM555.74,332.53l1.9,-1.6l1.9,1.6l-1.9,1.6zM554.00,333.93l1.9,-1.6l1.9,1.6l-1.9,1.6zM552.27,335.28l1.9,-1.6l1.9,1.6l-1.9,1.6zM550.53,336.58l1.9,-1.6l1.9,1.6l-1.9,1.6zM548.79,337.82l1.9,-1.6l1.9,1.6l-1.9,1.6zM547.06,339.02l1.9,-1.6l1.9,1.6l-1.9,1.6zM545.32,340.17l1.9,-1.6l1.9,1.6l-1.9,1.6zM543.58,341.28l1.9,-1.6l1.9,1.6l-1.9,1.6zM541.84,342.35l1.9,-1.6l1.9,1.6l-1.9,1.6zM540.11,343.38l1.9,-1.6l1.9,1.6l-1.9,1.6zM538.37,344.37l1.9,-1.6l1.9,1.6l-1.9,1.6zM536.63,345.33l1.9,-1.6l1.9,1.6l-1.9,1.6zM534.90,346.25l1.9,-1.6l1.9,1.6l-1.9,1.6zM533.16,347.15l1.9,-1.6l1.9,1.6l-1.9,1.6zM531.42,348.01l1.9,-1.6l1.9,1.6l-1.9,1.6zM529.69,348.84l1.9,-1.6l1.9,1.6l-1.9,1.6zM527.95,349.65l1.9,-1.6l1.9,1.6l-1.9,1.6zM526.21,350.43l1.9,-1.6l1.9,1.6l-1.9,1.6zM524.48,351.19l1.9,-1.6l1.9,1.6l-1.9,1.6zM522.74,351.92l1.9,-1.6l1.9,1.6l-1.9,1.6zM521.00,352.63l1.9,-1.6l1.9,1.6l-1.9,1.6zM519.27,353.31l1.9,-1.6l1.9,1.6l-1.9,1.6zM517.53,353.98l1.9,-1.6l1.9,1.6l-1.9,1.6zM515.79,354.62l1.9,-1.6l1.9,1.6l-1.9,1.6zM514.06,355.25l1.9,-1.6l1.9,1.6l-1.9,1.6zM512.32,355.85l1.9,-1.6l1.9,1.6l-1.9,1.6zM510.58,356.44l1.9,-1.6l1.9,1.6l-1.9,1.6zM508.85,357.01l1.9,-1.6l1.9,1.6l-1.9,1.6zM507.11,357.56l1.9,-1.6l1.9,1.6l-1.9,1.6zM505.37,358.10l1.9,-1.6l1.9,1.6l-1.9,1.6zM503.64,358.63l1.9,-1.6l1.9,1.6l-1.9,1.6zM501.90,359.13l1.9,-1.6l1.9,1.6l-1.9,1.6zM500.16,359.63l1.9,-1.6l1.9,1.6l-1.9,1.6zM498.43,360.11l1.9,-1.6l1.9,1.6l-1.9,1.6zM496.69,360.57l1.9,-1.6l1.9,1.6l-1.9,1.6zM494.95,361.03l1.9,-1.6l1.9,1.6l-1.9,1.6zM493.22,361.47l1.9,-1.6l1.9,1.6l-1.9,1.6zM491.48,361.90l1.9,-1.6l1.9,1.6l-1.9,1.6zM489.74,362.32l1.9,-1.6l1.9,1.6l-1.9,1.6zM488.01,362.73l1.9,-1.6l1.9,1.6l-1.9,1.6zM486.27,363.12l1.9,-1.6l1.9,1.6l-1.9,1.6zM484.53,363.51l1.9,-1.6l1.9,1.6l-1.9,1.6zM482.80,363.88l1.9,-1.6l1.9,1.6l-1.9,1.6zM481.06,364.25l1.9,-1.6l1.9,1.6l-1.9,1.6zM479.32,364.61l1.9,-1.6l1.9,1.6l-1.9,1.6zM477.59,364.96l1.9,-1.6l1.9,1.6l-1.9,1.6zM475.85,365.30l1.9,-1.6l1.9,1.6l-1.9,1.6zM474.11,365.63l1.9,-1.6l1.9,1.6l-1.9,1.6zM472.37,365.95l1.9,-1.6l1.9,1.6l-1.9,1.6zM470.64,366.27l1.9,-1.6l1.9,1.6l-1.9,1.6zM468.90,366.57l1.9,-1.6l1.9,1.6l-1.9,1.6zM467.16,366.87l1.9,-1.6l1.9,1.6l-1.9,1.6zM465.43,367.17l1.9,-1.6l1.9,1.6l-1.9,1.6zM463.69,367.45l1.9,-1.6l1.9,1.6l-1.9,1.6zM461.95,367.73l1.9,-1.6l1.9,1.6l-1.9,1.6zM460.22,368.00l1.9,-1.6l1.9,1.6l-1.9,1.6zM458.48,368.27l1.9,-1.6l1.9,1.6l-1.9,1.6zM456.74,368.53l1.9,-1.6l1.9,1.6l-1.9,1.6zM455.01,368.78l1.9,-1.6l1.9,1.6l-1.9,1.6zM453.27,369.03l1.9,-1.6l1.9,1.6l-1.9,1.6zM451.53,369.28l1.9,-1.6l1.9,1.6l-1.9,1.6zM449.80,369.51l1.9,-1.6l1.9,1.6l-1.9,1.6zM448.06,369.74l1.9,-1.6l1.9,1.6l-1.9,1.6zM446.32,369.97l1.9,-1.6l1.9,1.6l-1.9,1.6zM444.59,370.19l1.9,-1.6l1.9,1.6l-1.9,1.6zM442.85,370.41l1.9,-1.6l1.9,1.6l-1.9,1.6z" fill="#0000ff" stroke="#0000ff" stroke-width="0.75" stroke-linejoin="round"/></g>
<path d="M45.5,36.0V384.8M45.0,384.3H394.0" stroke="#000" stroke-width="1" fill="none"/>
<path d="M445.1,36.05V384.05M444.6,383.55H792.95" stroke="#2a2a2a" stroke-width="1" fill="none"/>
<rect x="295.1" y="49.4" width="83.5" height="71.80000000000001" fill="#fff" stroke="#333" stroke-width="1"/>
<path d="M300.6,62.3H325.4" stroke="#0000ff" stroke-width="1.45"/>
<path d="M311.1,62.3l1.9,-1.6l1.9,1.6l-1.9,1.6z" fill="#0000ff" stroke="#0000ff" stroke-width="0.75" stroke-linejoin="round"/>
<text x="327.5" y="67.5" class="l" textLength="46.9">N=100</text>
<path d="M300.6,85.2H325.4" stroke="#008000" stroke-width="1.7"/>
<path d="M313.0,85.2h0" stroke="#008000" stroke-width="3.9" stroke-linecap="round"/>
<text x="327.5" y="90.8" class="l" textLength="37.9">N=50</text>
<path d="M300.6,107.2H325.4" stroke="#ff0000" stroke-width="1.45"/>
<text x="327.5" y="113.7" class="l" textLength="37.9">N=10</text>
<rect x="693.9" y="49.4" width="83.0" height="71.80000000000001" fill="#fff" stroke="#333" stroke-width="1"/>
<path d="M698.9,61.6H724.4" stroke="#0000ff" stroke-width="1.45"/>
<path d="M709.75,61.6l1.9,-1.6l1.9,1.6l-1.9,1.6z" fill="#0000ff" stroke="#0000ff" stroke-width="0.75" stroke-linejoin="round"/>
<text x="728.4" y="68.1" class="l" textLength="41.5">β=100</text>
<path d="M698.9,85.2H724.4" stroke="#008000" stroke-width="1.7"/>
<path d="M711.65,85.2h0" stroke="#008000" stroke-width="3.9" stroke-linecap="round"/>
<text x="728.4" y="91.4" class="l" textLength="33.4">β=50</text>
<path d="M698.9,107.7H724.4" stroke="#ff0000" stroke-width="1.45"/>
<text x="728.4" y="114.0" class="l" textLength="33.4">β=14</text>
<text x="155.9" y="19.0" class="ti">λ</text>
<text x="164.6" y="26.8" class="sub">τ</text>
<text x="170.3" y="19.0" class="ti">=</text>
<text x="179.4" y="19.0" class="ti">λ</text>
<text x="187.6" y="26.8" class="sub">0</text>
<text x="194.6" y="19.0" class="ti" textLength="88.6" lengthAdjust="spacingAndGlyphs">+0.01; β=100</text>
<text x="543.8" y="19.0" class="ti">λ</text>
<text x="552.5" y="26.8" class="sub">τ</text>
<text x="558.2" y="19.0" class="ti">=</text>
<text x="567.3" y="19.0" class="ti">λ</text>
<text x="575.5" y="26.8" class="sub">0</text>
<text x="582.5" y="19.0" class="ti" textLength="113.3" lengthAdjust="spacingAndGlyphs">+0.01; N=10,000</text>
<text x="211.4" y="412.6" class="lab">λ</text><text x="220.4" y="420.5" class="sub2">0</text>
<text x="610.7" y="412.6" class="lab">λ</text><text x="619.7" y="420.5" class="sub2">0</text>
<g transform="translate(14.7,226.1) rotate(-90)"><text x="0" y="0" class="lab" textLength="10.0" lengthAdjust="spacingAndGlyphs">Δ</text><text x="10.1" y="0" class="lab" textLength="9.1" lengthAdjust="spacingAndGlyphs">S</text><text x="19.5" y="8.1" class="sub2" textLength="11.9" lengthAdjust="spacingAndGlyphs">irr</text></g>
<g transform="translate(416.0,226.1) rotate(-90)"><text x="0" y="0" class="lab" textLength="10.0" lengthAdjust="spacingAndGlyphs">Δ</text><text x="10.1" y="0" class="lab" textLength="9.1" lengthAdjust="spacingAndGlyphs">S</text><text x="19.5" y="8.1" class="sub2" textLength="11.9" lengthAdjust="spacingAndGlyphs">irr</text></g>
</svg>
</body></html>
